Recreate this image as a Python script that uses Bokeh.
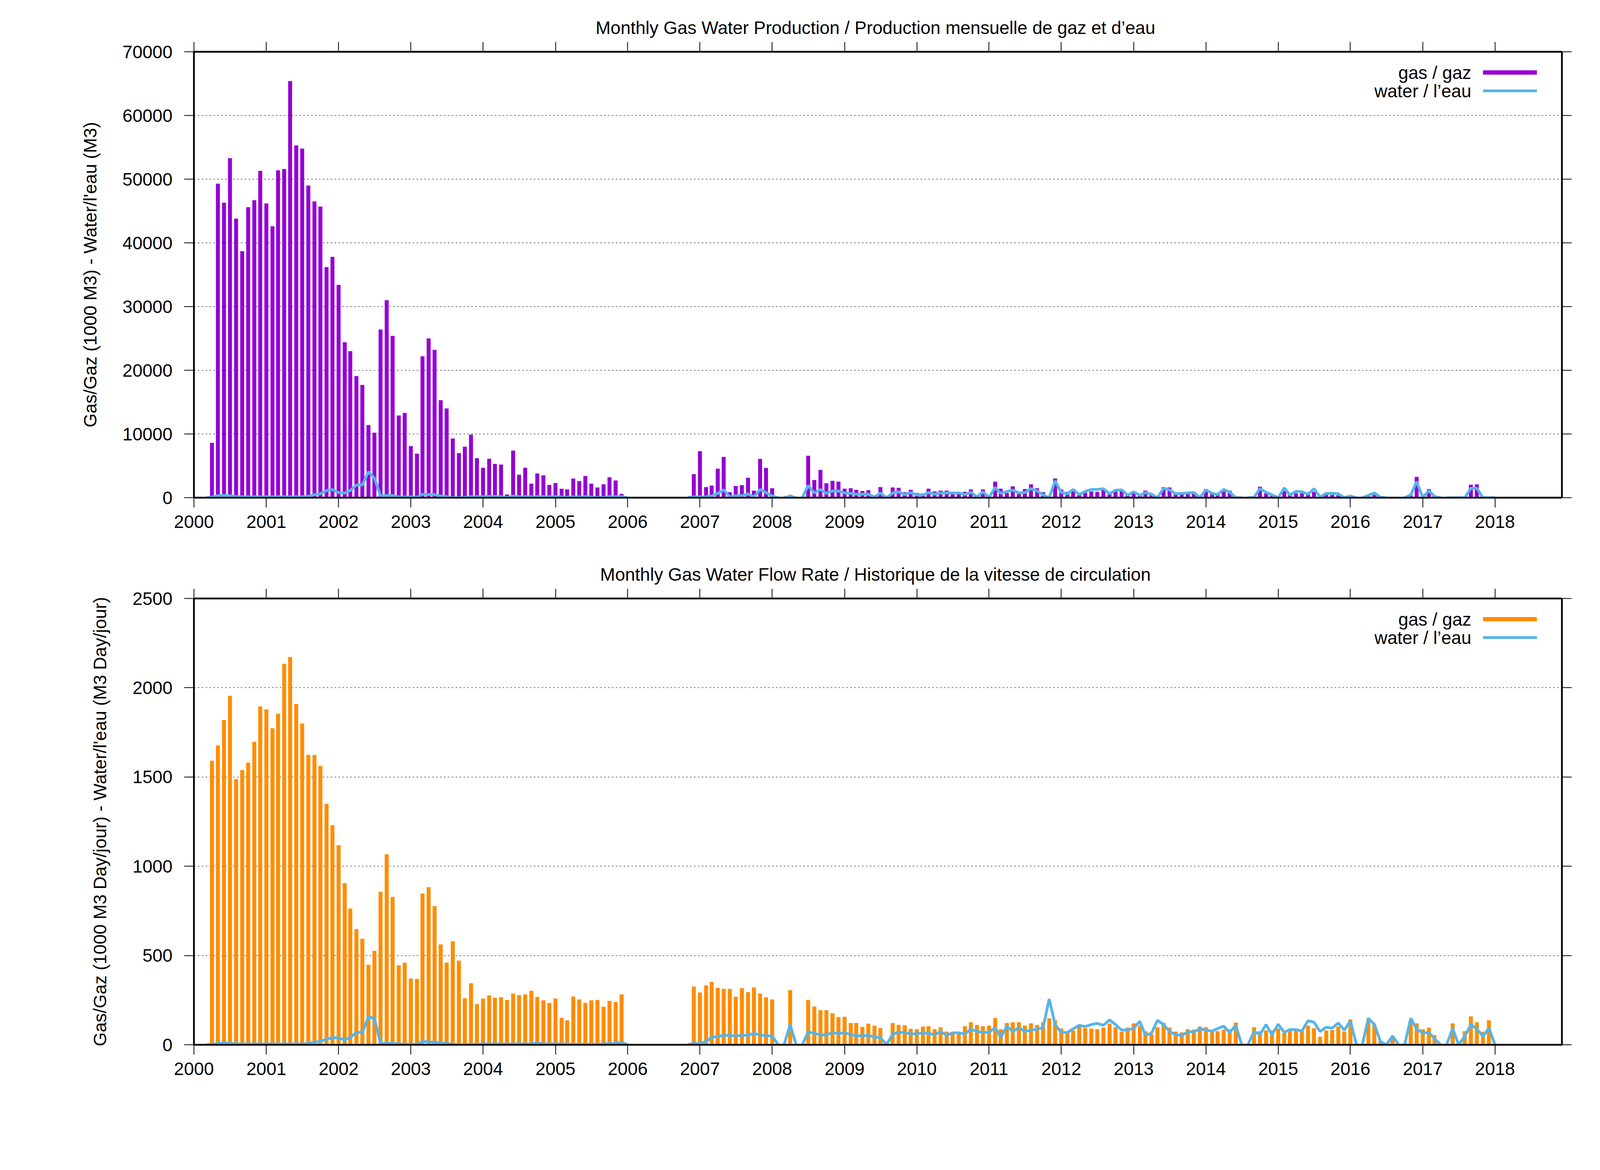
import numpy as np
import pandas as pd
from bokeh.plotting import figure
from bokeh.layouts import column
from bokeh.models import (DatetimeAxis, LinearAxis, FixedTicker, DatetimeTickFormatter,
                          CustomJSTickFormatter, Label, BoxAnnotation, Range1d)
from bokeh.embed import file_html
from bokeh.resources import INLINE

FONT = "Liberation Sans"
FSIZE = "46px"

# ---------------- data ----------------
period_a_start = "2000-03-01"   # Mar 2000 .. Jan 2006 (71 months)
period_b_start = "2006-11-01"   # Nov 2006 .. Jan 2018 (135 months)

# Monthly production: gas (1000 m3), water (m3)
gas_vol_a = [
    0, 8600, 49300, 46300, 53300, 43800, 38700, 45600, 46700, 51300,
    46200, 42600, 51400, 51600, 65400, 55300, 54800, 49000, 46500, 45700, 36200, 37800,
    33400, 24400, 23000, 19100, 17700, 11400, 10200, 26400, 31000, 25400, 12900, 13300,
    8100, 6900, 22200, 25000, 23200, 15300, 14000, 9300, 7000, 8000, 9900, 6200,
    4700, 6100, 5300, 5200, 500, 7400, 3600, 4700, 2200, 3800, 3500, 2000,
    2300, 1400, 1300, 3000, 2600, 3400, 2200, 1600, 2100, 3200, 2700, 600,
    0]
water_vol_a = [
    0, 100, 300, 350, 300, 180, 140, 140, 140, 140,
    140, 140, 140, 140, 140, 140, 140, 200, 470, 610, 1120, 1270,
    780, 730, 1120, 2000, 2000, 4060, 3080, 250, 340, 340, 100, 100,
    100, 50, 540, 490, 490, 250, 150, 0, 0, 50, 150, 150,
    150, 200, 200, 150, 0, 250, 150, 150, 150, 150, 150, 150,
    150, 100, 50, 100, 100, 150, 100, 0, 50, 150, 150, 150,
    0]
gas_vol_b = [
    0, 3690,
    7300, 1660, 1900, 4550, 6390, 860, 1840, 1970, 3130, 1100, 6090, 4670,
    1480, 0, 0, 430, 0, 0, 6580, 2770, 4360, 2270, 2640, 2520,
    1410, 1480, 1230, 1050, 1170, 250, 1660, 0, 1600, 1540, 860, 1230,
    740, 680, 1410, 980, 1100, 1100, 650, 680, 920, 1290, 150, 1290,
    100, 2520, 1410, 740, 1780, 680, 1350, 2090, 1480, 860, 0, 3010,
    1290, 920, 1290, 430, 800, 980, 920, 1290, 680, 1050, 1050, 680,
    980, 370, 1100, 680, 0, 1660, 1600, 680, 610, 680, 920, 0,
    1350, 680, 550, 980, 1100, 0, 0, 0, 0, 1720, 680, 550,
    0, 1050, 430, 680, 680, 550, 920, 0, 430, 430, 370, 0,
    180, 0, 0, 200, 430, 0, 0, 0, 0, 0, 370, 3260,
    0, 1350, 0, 0, 0, 0, 0, 0, 2030, 2090, 0, 0,
    0]
water_vol_b = [
    60, 100,
    120, 140, 270, 680, 1230, 120, 310, 310, 590, 120, 1290, 800,
    250, 0, 0, 200, 0, 0, 1900, 740, 1290, 680, 1050, 1050,
    740, 680, 550, 550, 550, 120, 740, 0, 740, 920, 490, 800,
    430, 430, 800, 550, 740, 740, 740, 740, 490, 860, 120, 920,
    60, 1600, 680, 980, 1170, 740, 800, 1410, 1050, 430, 0, 2640,
    800, 610, 1290, 490, 980, 1290, 1290, 1410, 610, 1170, 1230, 400,
    920, 370, 800, 550, 0, 1480, 1230, 610, 680, 740, 800, 0,
    1230, 680, 490, 1290, 860, 0, 0, 0, 60, 1410, 860, 430,
    0, 1540, 430, 980, 920, 550, 1410, 120, 680, 680, 610, 0,
    250, 0, 0, 370, 740, 60, 0, None, None, 0, 430, 2520,
    60, 1100, 180, 0, 0, 0, 0, 0, 1480, 1480, 0, 0,
    0]

# Monthly flow rate: gas (1000 m3/day), water (m3/day)
gas_rate_a = [
    0, 1591, 1677, 1819, 1955, 1488, 1539, 1581, 1697, 1895,
    1879, 1773, 1854, 2134, 2172, 1909, 1800, 1624, 1624, 1562, 1350, 1230,
    1118, 905, 763, 648, 594, 448, 526, 857, 1067, 828, 445, 460,
    371, 369, 847, 883, 777, 562, 460, 579, 471, 261, 345, 228,
    259, 277, 263, 266, 251, 287, 278, 282, 302, 268, 249, 234,
    259, 151, 137, 270, 254, 235, 249, 251, 213, 246, 239, 282,
    0]
water_rate_a = [
    0, 3, 7, 10, 8, 5, 5, 5, 5, 5,
    5, 5, 5, 5, 5, 5, 5, 7, 14, 19, 31, 40,
    38, 27, 41, 69, 69, 156, 148, 7, 8, 8, 5, 3,
    3, 3, 19, 15, 15, 10, 7, 3, 0, 0, 3, 3,
    5, 5, 5, 5, 3, 5, 5, 5, 5, 10, 5, 5,
    5, 5, 3, 3, 3, 3, 3, 3, 5, 7, 7, 14,
    0]
gas_rate_b = [
    0, 326,
    293, 333, 353, 319, 313, 313, 269, 317, 295, 321, 286, 266,
    254, 0, 0, 306, 0, 0, 251, 214, 194, 194, 177, 155,
    157, 122, 122, 100, 118, 107, 93, 0, 122, 111, 109, 89,
    87, 102, 104, 87, 98, 74, 70, 69, 104, 126, 111, 104,
    107, 150, 87, 122, 126, 126, 107, 120, 111, 126, 148, 137,
    91, 69, 80, 102, 93, 91, 87, 96, 118, 98, 72, 96,
    120, 107, 76, 58, 98, 122, 96, 74, 69, 87, 85, 102,
    98, 74, 76, 85, 87, 124, 0, 0, 98, 76, 80, 80,
    91, 65, 89, 85, 76, 107, 93, 45, 80, 82, 102, 74,
    142, 0, 0, 146, 115, 18, 0, 47, 0, 0, 135, 120,
    87, 96, 54, 0, 0, 120, 0, 76, 159, 126, 72, 137,
    0]
water_rate_b = [
    2, 7,
    7, 18, 42, 45, 53, 53, 49, 53, 53, 64, 55, 51,
    49, 0, 0, 113, 0, 0, 72, 64, 55, 55, 69, 62,
    69, 55, 51, 49, 53, 42, 40, 0, 60, 69, 69, 60,
    62, 65, 65, 55, 75, 51, 67, 67, 60, 87, 75, 69,
    69, 96, 40, 104, 74, 96, 74, 82, 87, 96, 256, 113,
    69, 69, 89, 109, 102, 113, 120, 109, 139, 113, 82, 82,
    93, 131, 54, 65, 137, 113, 74, 56, 52, 72, 72, 89,
    82, 76, 91, 104, 69, 109, 0, 0, 74, 58, 113, 56,
    115, 69, 85, 85, 76, 135, 126, 74, 98, 93, 122, 82,
    133, 0, 0, 148, 115, 18, 0, 49, 0, 0, 148, 89,
    65, 69, 34, 0, 0, 91, 0, 47, 113, 89, 47, 93,
    0]

# months after which the water line is interrupted
line_breaks_vol = ["2008-02", "2008-05", "2014-07", "2016-02", "2017-04"]
line_breaks_rate = ["2008-02", "2008-05", "2014-07", "2016-02", "2016-09", "2017-04"]

year_ticks = list(range(2000, 2019))
vol_ticks = list(range(0, 70001, 10000))
rate_ticks = list(range(0, 2501, 500))

x_start, x_end = "2000-01-01", "2018-12-05"

titles = ["Monthly Gas  Water Production / Production mensuelle de gaz et d\u2019eau",
          "Monthly Gas  Water Flow Rate / Historique de la vitesse de circulation"]
ylabels = ["Gas/Gaz (1000 M3) - Water/l'eau (M3)",
           "Gas/Gaz (1000 M3 Day/jour) - Water/l'eau (M3 Day/jour)"]
legend_texts = ["gas / gaz", "water / l\u2019eau"]

GAS_VOL_COLOR = "#9400D3"
GAS_RATE_COLOR = "#FF8C00"
WATER_COLOR = "#56B4E9"

# ---------------- helpers ----------------
EPOCH = pd.Timestamp("1970-01-01")
DAY_MS = 86400000.0


def to_ms(ts):
    return np.asarray((pd.DatetimeIndex(ts) - EPOCH) / pd.Timedelta(milliseconds=1), dtype=float)


months_a = pd.date_range(period_a_start, periods=len(gas_vol_a), freq="MS")
months_b = pd.date_range(period_b_start, periods=len(gas_vol_b), freq="MS")


def line_xy(periods, breaks):
    xs, ys = [], []
    for months, vals in periods:
        ms = to_ms(months)
        for i, (d, x, v) in enumerate(zip(months, ms, vals)):
            xs.append(x)
            ys.append(np.nan if v is None else float(v))
            if d.strftime("%Y-%m") in breaks and i + 1 < len(ms):
                xs.append((x + ms[i + 1]) / 2.0)
                ys.append(np.nan)
        xs.append(ms[-1] + DAY_MS)
        ys.append(np.nan)
    return xs, ys


def bar_xy(periods):
    xs, ts = [], []
    for months, vals in periods:
        ms = to_ms(months)
        for x, v in zip(ms, vals):
            if v:
                xs.append(x)
                ts.append(v)
    return xs, ts


year_ms = list(to_ms([pd.Timestamp(f"{y}-01-01") for y in year_ticks]))
x0 = float(to_ms([pd.Timestamp(x_start)])[0])
x1 = float(to_ms([pd.Timestamp(x_end)])[0])

FRAME_W = 3502
BORDER_L = 496
BORDER_R = 100


def make_panel(title, ylabel, ymax, yticks, gas_periods, water_periods, breaks,
               gas_color, frame_h, border_top, border_bottom):
    p = figure(x_axis_type="datetime", output_backend="svg", toolbar_location=None, tools="",
               frame_width=FRAME_W, frame_height=frame_h,
               min_border_left=BORDER_L, min_border_right=BORDER_R,
               min_border_top=border_top, min_border_bottom=border_bottom,
               x_range=Range1d(x0, x1), y_range=Range1d(0, ymax), title=title)
    p.background_fill_color = "white"
    p.border_fill_color = "white"
    p.outline_line_color = "black"
    p.outline_line_width = 4

    p.title.text_font = FONT
    p.title.text_font_size = FSIZE
    p.title.text_font_style = "normal"
    p.title.text_color = "black"
    p.title.align = "center"
    p.title.standoff = 22

    p.xgrid.grid_line_color = None
    p.ygrid.ticker = FixedTicker(ticks=yticks)
    p.ygrid.grid_line_color = "#444444"
    p.ygrid.grid_line_width = 1.5
    p.ygrid.grid_line_dash = "4 6"

    xa = p.xaxis[0]
    xa.ticker = FixedTicker(ticks=year_ms)
    xa.formatter = DatetimeTickFormatter(years="%Y", months="%Y", days="%Y", hours="%Y",
                                         hourmin="%Y", minutes="%Y", minsec="%Y", seconds="%Y",
                                         milliseconds="%Y", microseconds="%Y")
    xa.major_label_standoff = 20
    ya = p.yaxis[0]
    ya.ticker = FixedTicker(ticks=yticks)
    ya.major_label_standoff = 30
    ya.axis_label = ylabel
    ya.axis_label_text_font = FONT
    ya.axis_label_text_font_size = FSIZE
    ya.axis_label_text_font_style = "normal"
    ya.axis_label_text_color = "black"
    ya.axis_label_standoff = 54

    top_ax = DatetimeAxis(ticker=FixedTicker(ticks=year_ms),
                          formatter=CustomJSTickFormatter(code="return ''"))
    right_ax = LinearAxis(ticker=FixedTicker(ticks=yticks),
                          formatter=CustomJSTickFormatter(code="return ''"))
    p.add_layout(top_ax, "above")
    p.add_layout(right_ax, "right")
    for ax in (top_ax, right_ax):
        ax.major_label_text_font_size = "1px"
        ax.major_label_standoff = 0

    for ax in (xa, ya, top_ax, right_ax):
        ax.axis_line_color = "black"
        ax.axis_line_width = 4
        ax.major_tick_in = 0
        ax.major_tick_out = 25
        ax.major_tick_line_width = 2
        ax.major_tick_line_color = "black"
        ax.minor_tick_line_color = None
    for ax in (xa, ya):
        ax.major_label_text_font = FONT
        ax.major_label_text_font_size = FSIZE
        ax.major_label_text_color = "black"

    bx, bt = bar_xy(gas_periods)
    p.vbar(x=bx, top=bt, bottom=0, width=20 * DAY_MS, fill_color=gas_color, line_color=None)
    lx, ly = line_xy(water_periods, breaks)
    p.line(lx, ly, line_color=WATER_COLOR, line_width=7)

    # gnuplot-style key (text left, sample right)
    for text, color, off, thick in ((legend_texts[0], gas_color, 53, 11),
                                    (legend_texts[1], WATER_COLOR, 100, 7)):
        yc = frame_h - off
        p.add_layout(Label(x=3270, y=yc, x_units="screen", y_units="screen", text=text,
                           text_align="right", text_baseline="middle",
                           text_font=FONT, text_font_size=FSIZE, text_color="black"))
        p.add_layout(BoxAnnotation(left=3300, right=3438, bottom=yc - thick / 2.0,
                                   top=yc + thick / 2.0, left_units="screen",
                                   right_units="screen", bottom_units="screen",
                                   top_units="screen", fill_color=color, fill_alpha=1.0,
                                   line_color=None))
    return p


p1 = make_panel(titles[0], ylabels[0], 70000, vol_ticks,
                [(months_a, gas_vol_a), (months_b, gas_vol_b)],
                [(months_a, water_vol_a), (months_b, water_vol_b)],
                line_breaks_vol, GAS_VOL_COLOR, 1141, 132, 120)
p2 = make_panel(titles[1], ylabels[1], 2500, rate_ticks,
                [(months_a, gas_rate_a), (months_b, gas_rate_b)],
                [(months_a, water_rate_a), (months_b, water_rate_b)],
                line_breaks_rate, GAS_RATE_COLOR, 1142, 138, 290)

layout = column(p1, p2, spacing=0)
open("out.html", "w").write(file_html(layout, INLINE))
